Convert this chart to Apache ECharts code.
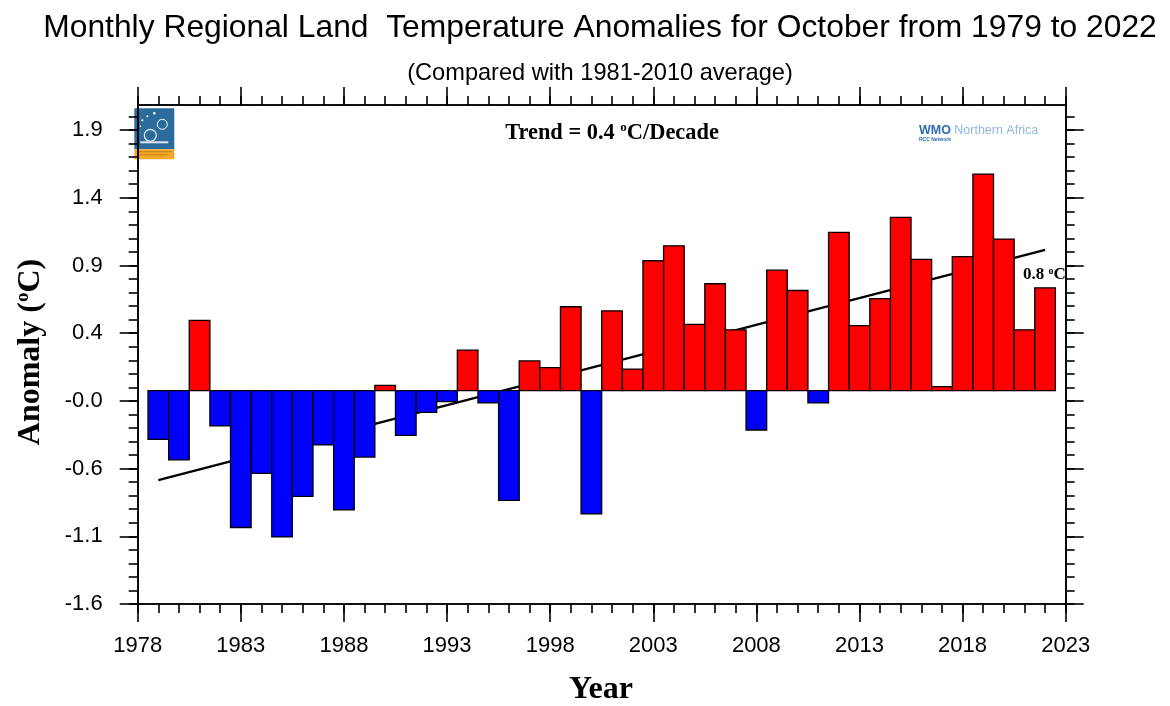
<!DOCTYPE html>
<html>
<head>
<meta charset="utf-8">
<script src="https://cdn.jsdelivr.net/npm/echarts@6/dist/echarts.min.js"></script>
<style>
  html, body { margin: 0; padding: 0; background: #fff; }
  #chart { width: 1170px; height: 706px; }
</style>
</head>
<body>
<div id="chart"></div>
<script>
// ---- data ----
const years = [1979,1980,1981,1982,1983,1984,1985,1986,1987,1988,1989,
               1990,1991,1992,1993,1994,1995,1996,1997,1998,1999,2000,
               2001,2002,2003,2004,2005,2006,2007,2008,2009,2010,2011,
               2012,2013,2014,2015,2016,2017,2018,2019,2020,2021,2022];
const anomalies = [-0.36,-0.51,0.52,-0.26,-1.01,-0.61,-1.08,-0.78,-0.40,-0.88,-0.49,
                   0.04,-0.33,-0.16,-0.08,0.30,-0.09,-0.81,0.22,0.17,0.62,-0.91,
                   0.59,0.16,0.96,1.07,0.49,0.79,0.45,-0.29,0.89,0.74,-0.09,
                   1.17,0.48,0.68,1.28,0.97,0.03,0.99,1.60,1.12,0.45,0.76];
const trendYears = [1979, 2022];
const trendValues = [-0.66, 1.04];
const xTickValues = [1978,1983,1988,1993,1998,2003,2008,2013,2018,2023];
const xTickLabels = ['1978','1983','1988','1993','1998','2003','2008','2013','2018','2023'];
const yTickValues = [-1.575,-1.075,-0.575,-0.075,0.425,0.925,1.425,1.925];
const yTickLabels = ['-1.6','-1.1','-0.6','-0.0','0.4','0.9','1.4','1.9'];
const titleText = 'Monthly Regional Land  Temperature Anomalies for October from 1979 to 2022';
const subtitleText = '(Compared with 1981-2010 average)';

// ---- tick helpers (positions only) ----
const xMinorTicks = [];
for (let y = 1978; y <= 2023; y++) xMinorTicks.push(y);
const yMinorTicks = [];
for (let k = 0; k <= 36; k++) yMinorTicks.push(Math.round((-1.575 + 0.1 * k) * 1000) / 1000);

const X_MIN = 1978, X_MAX = 2023, Y_MIN = -1.575, Y_MAX = 2.11;
const axisColor = '#000';
const sans = '"Liberation Sans", Arial, Helvetica, sans-serif';
const serif = '"Liberation Serif", "Times New Roman", serif';

function xAxisDef(position, ticks, len, showLabel) {
  return {
    type: 'value', position: position, min: X_MIN, max: X_MAX,
    axisLine: { show: true, onZero: false, lineStyle: { color: axisColor, width: 1.6 } },
    axisTick: { show: true, customValues: ticks, length: len, inside: false,
                lineStyle: { color: axisColor, width: 1.6 } },
    axisLabel: showLabel ? {
      show: true, customValues: xTickValues, margin: 31,
      formatter: function (v) { const i = xTickValues.indexOf(Math.round(v)); return i >= 0 ? xTickLabels[i] : ''; },
      fontFamily: sans, fontSize: 22, color: '#000'
    } : { show: false },
    splitLine: { show: false }
  };
}
function yAxisDef(position, ticks, len, showLabel) {
  return {
    type: 'value', position: position, min: Y_MIN, max: Y_MAX,
    axisLine: { show: true, onZero: false, lineStyle: { color: axisColor, width: 1.6 } },
    axisTick: { show: true, customValues: ticks, length: len, inside: false,
                lineStyle: { color: axisColor, width: 1.6 } },
    axisLabel: showLabel ? {
      show: true, customValues: yTickValues, margin: 35,
      formatter: function (v) {
        const i = yTickValues.findIndex(function (t) { return Math.abs(t - v) < 1e-6; });
        return i >= 0 ? yTickLabels[i] : '';
      },
      fontFamily: sans, fontSize: 22, color: '#000'
    } : { show: false },
    splitLine: { show: false }
  };
}

const chart = echarts.init(document.getElementById('chart'), null, { renderer: 'canvas' });

const option = {
  backgroundColor: '#fff',
  animation: false,
  grid: { left: 137.7, right: 104.3, top: 105, bottom: 102, containLabel: false, outerBoundsMode: 'none' },
  xAxis: [
    xAxisDef('bottom', xTickValues, 18, true),
    xAxisDef('bottom', xMinorTicks, 9, false),
    xAxisDef('top', xTickValues, 18, false),
    xAxisDef('top', xMinorTicks, 9, false)
  ],
  yAxis: [
    yAxisDef('left', yTickValues, 18, true),
    yAxisDef('left', yMinorTicks, 9, false),
    yAxisDef('right', yTickValues, 18, false),
    yAxisDef('right', yMinorTicks, 9, false)
  ],
  series: [
    {
      type: 'line', xAxisIndex: 0, yAxisIndex: 0, z: 1,
      data: trendYears.map(function (y, i) { return [y, trendValues[i]]; }),
      symbol: 'none', silent: true,
      lineStyle: { color: '#000', width: 2.2 }
    },
    {
      type: 'custom', xAxisIndex: 0, yAxisIndex: 0, z: 3,
      data: years.map(function (y, i) { return [y, anomalies[i]]; }),
      renderItem: function (params, api) {
        const x = api.value(0), v = api.value(1);
        const p0 = api.coord([x - 0.5, Math.max(v, 0)]);
        const p1 = api.coord([x + 0.5, Math.min(v, 0)]);
        return {
          type: 'rect',
          shape: { x: p0[0], y: p0[1], width: p1[0] - p0[0], height: p1[1] - p0[1] },
          style: { fill: v >= 0 ? '#ff0000' : '#0000ff', stroke: '#000', lineWidth: 1.3 }
        };
      }
    }
  ],
  graphic: [
    { type: 'text', x: 600, y: 28, z: 10,
      style: { text: titleText, font: '31.8px ' + sans, fill: '#000', align: 'center', verticalAlign: 'middle' } },
    { type: 'text', x: 600, y: 73, z: 10,
      style: { text: subtitleText, font: '23.6px ' + sans, fill: '#000', align: 'center', verticalAlign: 'middle' } },
    { type: 'text', x: 612, y: 133, z: 10,
      style: { text: '{b|Trend = 0.4 }{s|o}{b|C/Decade}', align: 'center', verticalAlign: 'middle',
        rich: { b: { fontFamily: serif, fontWeight: 'bold', fontSize: 22.4, fill: '#000', lineHeight: 24 },
                s: { fontFamily: serif, fontWeight: 'bold', fontSize: 13, fill: '#000', verticalAlign: 'top', lineHeight: 24 } } } },
    { type: 'text', x: 1023, y: 275, z: 10,
      style: { text: '{b|0.8 }{s|o}{b|C}', align: 'left', verticalAlign: 'middle',
        rich: { b: { fontFamily: serif, fontWeight: 'bold', fontSize: 17, fill: '#000', lineHeight: 18 },
                s: { fontFamily: serif, fontWeight: 'bold', fontSize: 10, fill: '#000', verticalAlign: 'top', lineHeight: 18 } } } },
    { type: 'text', x: 601, y: 690, z: 10,
      style: { text: 'Year', font: 'bold 32px ' + serif, fill: '#000', align: 'center', verticalAlign: 'middle' } },
    { type: 'text', x: 31, y: 352, rotation: Math.PI / 2, z: 10,
      style: { text: '{b|Anomaly (}{s|o}{b|C)}', align: 'center', verticalAlign: 'middle',
        rich: { b: { fontFamily: serif, fontWeight: 'bold', fontSize: 32, fill: '#000', lineHeight: 34 },
                s: { fontFamily: serif, fontWeight: 'bold', fontSize: 19, fill: '#000', verticalAlign: 'top', lineHeight: 34 } } } },
    // WMO Northern Africa mark
    { type: 'text', x: 919, y: 131, z: 10,
      style: { text: '{w|WMO} {n|Northern Africa}', align: 'left', verticalAlign: 'middle',
        rich: { w: { fontFamily: sans, fontWeight: 'bold', fontSize: 12.5, fill: '#2f6db3' },
                n: { fontFamily: sans, fontSize: 12.5, fill: '#8fb8e2' } } } },
    { type: 'text', x: 919, y: 139.5, z: 10,
      style: { text: 'RCC Network', font: 'bold 5px ' + sans, fill: '#2f6db3', align: 'left', verticalAlign: 'middle' } },
    // logo
    { type: 'group', x: 134.3, y: 108.3, z: 10, children: [
      { type: 'rect', shape: { x: 0, y: 0, width: 40, height: 41 }, style: { fill: '#2b6c9c' } },
      { type: 'rect', shape: { x: 0, y: 41, width: 40, height: 10 }, style: { fill: '#f5a82a' } },
      { type: 'circle', shape: { cx: 28, cy: 16, r: 5 }, style: { fill: 'none', stroke: '#fff', lineWidth: 1 } },
      { type: 'circle', shape: { cx: 16, cy: 27, r: 6 }, style: { fill: 'none', stroke: '#e8f0f6', lineWidth: 1.2 } },
      { type: 'circle', shape: { cx: 8, cy: 12, r: 1 }, style: { fill: '#fff' } },
      { type: 'circle', shape: { cx: 13, cy: 8, r: 1 }, style: { fill: '#fff' } },
      { type: 'circle', shape: { cx: 20, cy: 5, r: 1.2 }, style: { fill: '#fff' } },
      { type: 'circle', shape: { cx: 6, cy: 18, r: 0.8 }, style: { fill: '#fff' } },
      { type: 'rect', shape: { x: 6, y: 33, width: 28, height: 2 }, style: { fill: '#dbe8f2' } },
      { type: 'rect', shape: { x: 3, y: 43, width: 34, height: 1 }, style: { fill: '#c47a10' } },
      { type: 'rect', shape: { x: 3, y: 46, width: 30, height: 1 }, style: { fill: '#c47a10' } }
    ] }
  ]
};
chart.setOption(option);
</script>
</body>
</html>
